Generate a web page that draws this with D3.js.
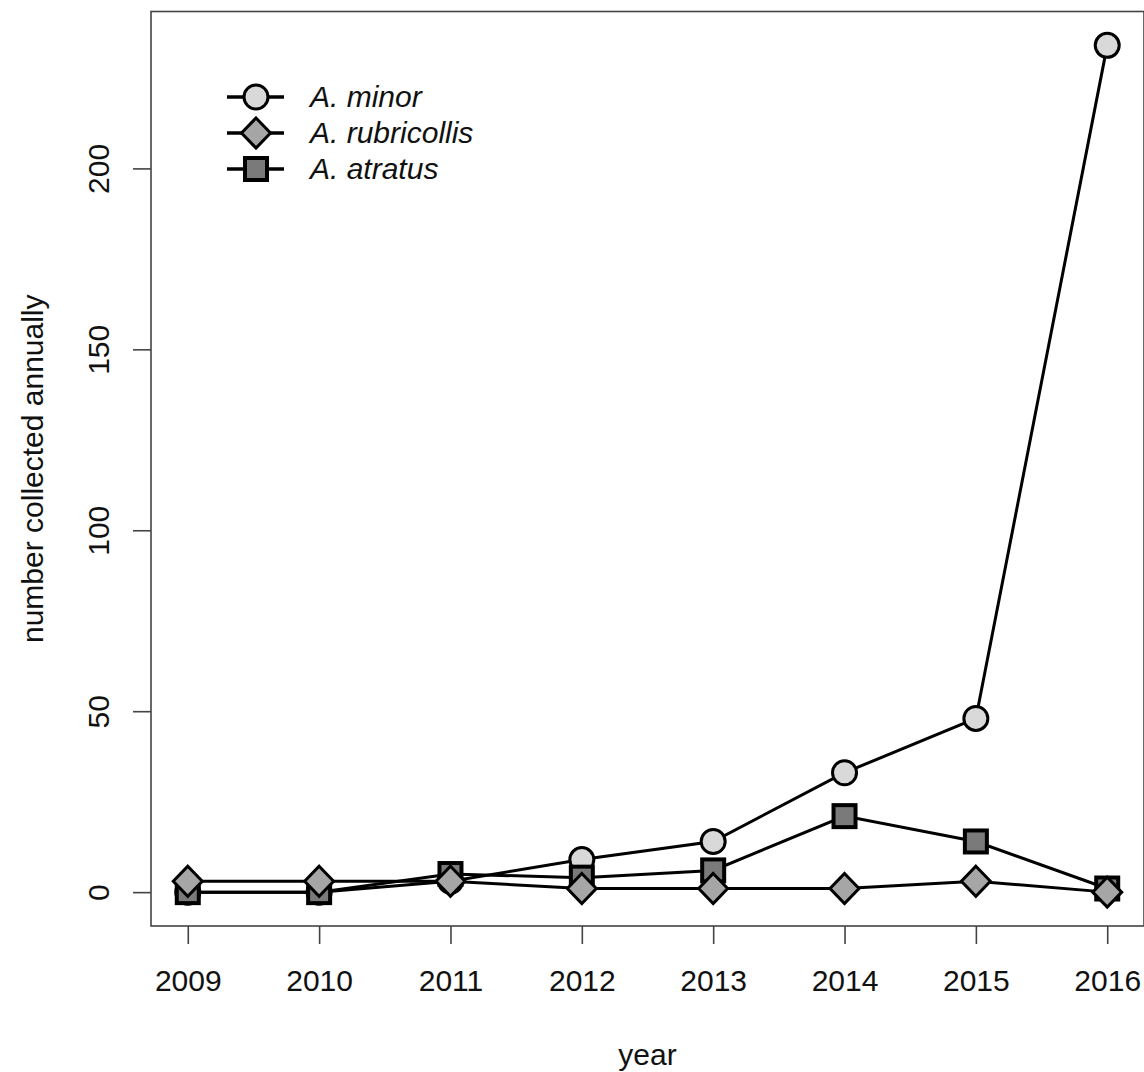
<!DOCTYPE html>
<html lang="en">
  <head>
    <meta charset="utf-8">
    <title>Number collected annually</title>
    <style>
      body {margin: 0; background: #fff;}
      svg {display: block;}
      text {font-family: "Liberation Sans", Arial, sans-serif; fill: #111;}
      .box {fill: none; stroke: #444; stroke-width: 1.6px;}
      .tick line {stroke: #444; stroke-width: 1.6px;}
      .series {fill: none; stroke: #000; stroke-width: 3px;}
      .mark {stroke: #000; stroke-width: 3px;}
      .mark.square {stroke-width: 4px;}
    </style>
    <script src="https://d3js.org/d3.v7.min.js"></script>
  </head>
  <body>
    <script type="text/javascript">
      // data
      var years = [2009, 2010, 2011, 2012, 2013, 2014, 2015, 2016];
      var minor = [0, 0, 3, 9, 14, 33, 48, 234];
      var rubricollis = [3, 3, 3, 1, 1, 1, 3, 0];
      var atratus = [0, 0, 5, 4, 6, 21, 14, 1];
      var yTicks = [0, 50, 100, 150, 200];

      var width = 1144, height = 1072;

      // series in drawing order (legend order is different)
      var series = [
        {name: "A. minor", values: minor, shape: "circle", fill: "#d9d9d9"},
        {name: "A. atratus", values: atratus, shape: "square", fill: "#7a7a7a"},
        {name: "A. rubricollis", values: rubricollis, shape: "diamond", fill: "#a6a6a6"}
      ];
      var legendOrder = [0, 2, 1];

      // R style 4% padding on both axes
      var xPad = (d3.max(years) - d3.min(years)) * 0.04;
      var yMax = d3.max(minor);
      var yPad = yMax * 0.04;

      var x = d3.scaleLinear()
        .domain([d3.min(years) - xPad, d3.max(years) + xPad])
        .range([151, 1144]);
      var y = d3.scaleLinear()
        .domain([-yPad, yMax + yPad])
        .range([926, 11.5]);

      var svg = d3.select("body").append("svg")
        .attr("width", width)
        .attr("height", height);

      function drawMark(g, shape, fill) {
        if (shape == "circle") {
          g.append("circle").attr("class", "mark").attr("r", 12).attr("fill", fill);
        } else if (shape == "square") {
          g.append("rect").attr("class", "mark square")
            .attr("x", -11).attr("y", -11)
            .attr("width", 22).attr("height", 22)
            .attr("fill", fill);
        } else {
          g.append("path").attr("class", "mark")
            .attr("d", "M0,-15L14.5,0L0,15L-14.5,0Z")
            .attr("fill", fill);
        }
      }

      // lines and points
      var line = d3.line()
        .x(function(d, i) { return x(years[i]); })
        .y(function(d) { return y(d); });

      series.forEach(function(s) {
        svg.append("path")
          .attr("class", "series")
          .attr("d", line(s.values));
        s.values.forEach(function(v, i) {
          var g = svg.append("g")
            .attr("transform", "translate(" + x(years[i]) + "," + y(v) + ")");
          drawMark(g, s.shape, s.fill);
        });
      });

      // box
      svg.append("rect")
        .attr("class", "box")
        .attr("x", x.range()[0]).attr("y", y.range()[1])
        .attr("width", x.range()[1] - x.range()[0])
        .attr("height", y.range()[0] - y.range()[1]);

      // x axis
      var xAxis = d3.axisBottom(x)
        .tickValues(years)
        .tickFormat(d3.format("d"))
        .tickSize(18)
        .tickPadding(26);
      var gx = svg.append("g")
        .attr("transform", "translate(0," + y.range()[0] + ")")
        .call(xAxis);
      gx.select(".domain").remove();
      gx.selectAll("text").style("font-size", "30px");

      // y axis
      var yAxis = d3.axisLeft(y)
        .tickValues(yTicks)
        .tickSize(18);
      var gy = svg.append("g")
        .attr("transform", "translate(" + x.range()[0] + ",0)")
        .call(yAxis);
      gy.select(".domain").remove();
      gy.selectAll("text")
        .style("font-size", "30px")
        .attr("text-anchor", "middle")
        .attr("dy", null)
        .attr("x", null)
        .attr("transform", "translate(-53,0) rotate(-90)")
        .attr("y", 0)
        .attr("dominant-baseline", "central");

      // axis titles
      svg.append("text")
        .attr("x", (x.range()[0] + x.range()[1]) / 2)
        .attr("y", 1065)
        .attr("text-anchor", "middle")
        .style("font-size", "30px")
        .text("year");

      svg.append("text")
        .attr("transform", "translate(43," + (y.range()[0] + y.range()[1]) / 2 + ") rotate(-90)")
        .attr("text-anchor", "middle")
        .style("font-size", "30px")
        .text("number collected annually");

      // legend
      var legend = svg.append("g").attr("transform", "translate(0,97)");
      legendOrder.forEach(function(k, row) {
        var s = series[k];
        var g = legend.append("g").attr("transform", "translate(0," + row * 36 + ")");
        g.append("line")
          .attr("x1", 227).attr("x2", 284)
          .attr("stroke", "#000").attr("stroke-width", 3.5);
        var m = g.append("g").attr("transform", "translate(256,0)");
        drawMark(m, s.shape, s.fill);
        g.append("text")
          .attr("x", 310)
          .attr("y", 10)
          .style("font-size", "30px")
          .style("font-style", "italic")
          .text(s.name);
      });
    </script>
  </body>
</html>
